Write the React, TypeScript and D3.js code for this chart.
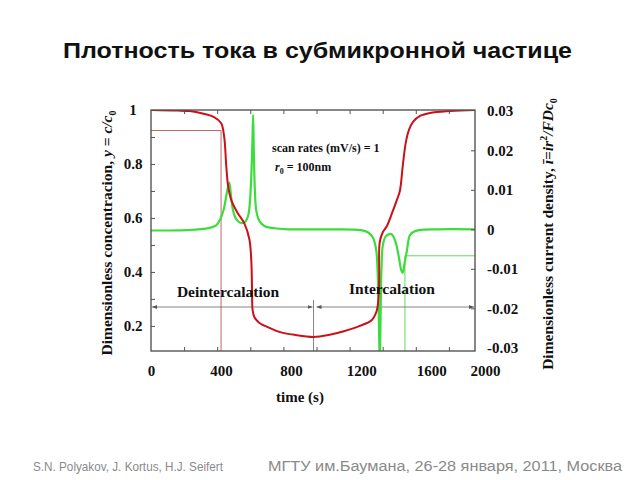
import { useEffect, useRef } from 'react'
import * as d3 from 'd3'

// time (s) and dimensionless concentration (left axis)
const redTime = [0, 150, 220, 300, 360, 400, 418, 430, 441, 458, 493, 533, 562, 573, 577, 580, 590, 619, 676, 733, 819, 928, 1020, 1106, 1192, 1261, 1289, 1298, 1303, 1306, 1324, 1347, 1381, 1404, 1421, 1438, 1455, 1473, 1496, 1536, 1593, 1708, 1850]
const redConc = [1.0, 0.998, 0.996, 0.986, 0.974, 0.952, 0.9, 0.79, 0.715, 0.667, 0.62, 0.58, 0.52, 0.437, 0.333, 0.26, 0.233, 0.211, 0.193, 0.178, 0.167, 0.159, 0.167, 0.181, 0.2, 0.222, 0.256, 0.296, 0.37, 0.51, 0.548, 0.57, 0.626, 0.667, 0.7, 0.796, 0.88, 0.926, 0.956, 0.978, 0.989, 0.996, 1.0]

// time (s) and dimensionless current density (right axis)
const greenTime = [0, 200, 330, 372, 395, 415, 432, 447, 458, 470, 487, 515, 540, 555, 565, 573, 579, 583, 587, 593, 602, 620, 650, 720, 800, 1000, 1200, 1240, 1266, 1285, 1295, 1302, 1306, 1310, 1316, 1324, 1340, 1360, 1375, 1395, 1415, 1430, 1438, 1446, 1461, 1478, 1500, 1530, 1630, 1850]
const greenCurr = [-0.0003, -0.0002, 0.0003, 0.001, 0.0025, 0.005, 0.009, 0.0118, 0.008, 0.0045, 0.0025, 0.0016, 0.002, 0.0035, 0.007, 0.014, 0.022, 0.029, 0.02, 0.01, 0.0045, 0.002, 0.0008, 0.0002, 0, 0, -0.0002, -0.0008, -0.002, -0.005, -0.012, -0.025, -0.034, -0.025, -0.01, -0.004, -0.0018, -0.0012, -0.0013, -0.003, -0.007, -0.0105, -0.011, -0.009, -0.0055, -0.0015, -0.0006, -0.0002, 0, 0]

const xTickValues = [0, 400, 800, 1200, 1600, 1850]
const xTickLabels = ['0', '400', '800', '1200', '1600', '2000']
const xMinorTicks = [189, 378, 567, 756, 945, 1134, 1323, 1512, 1701]
const leftTicks = [1, 0.8, 0.6, 0.4, 0.2]
const leftMinorTicks = [0.9, 0.8, 0.7, 0.6, 0.5, 0.4, 0.3, 0.2]
const rightTicks = [0.03, 0.02, 0.01, 0, -0.01, -0.02, -0.03]
const rightMinorTicks = [0.02, 0.01, 0, -0.01, -0.02]

// annotation values
const redMarker = { t: 400, c: 0.924 }
const greenMarker = { t: 1450, j: -0.0067 }
const splitTime = 928
const splitTop = 0.296
const arrowLevel = 0.27

const serif = '"Liberation Serif", "Times New Roman", serif'
const sans = '"Liberation Sans", Arial, sans-serif'

export default function App() {
  const svgRef = useRef<SVGSVGElement>(null)

  useEffect(() => {
    if (!svgRef.current) return
    const svg = d3.select(svgRef.current)
    svg.selectAll('*').remove()

    const x = d3.scaleLinear().domain([0, 1850]).range([151, 475])
    const yL = d3.scaleLinear().domain([0.107, 1]).range([351, 110])
    const yR = d3.scaleLinear().domain([-0.0308, 0.0302]).range([351, 110])
    const [x0, x1] = x.range()
    const [yb, yt] = yL.range()

    svg.append('rect').attr('width', 640).attr('height', 480).attr('fill', '#fff')

    svg.append('text')
      .attr('x', 63).attr('y', 58)
      .attr('font-family', sans).attr('font-weight', 'bold').attr('font-size', 22)
      .attr('fill', '#111')
      .attr('textLength', 509).attr('lengthAdjust', 'spacingAndGlyphs')
      .text('Плотность тока в субмикронной частице')

    const defs = svg.append('defs')
    defs.append('clipPath').attr('id', 'plot-clip')
      .append('rect').attr('x', x0).attr('y', yt).attr('width', x1 - x0).attr('height', yb - yt)
    const mk = defs.append('marker').attr('id', 'arr').attr('viewBox', '0 0 10 10')
      .attr('refX', 10).attr('refY', 5).attr('markerWidth', 5).attr('markerHeight', 5)
      .attr('orient', 'auto-start-reverse').attr('markerUnits', 'userSpaceOnUse')
    mk.append('path').attr('d', 'M0,1L10,5L0,9Z').attr('fill', '#555')

    // thin guide lines
    svg.append('path')
      .attr('d', `M${x0},${yL(redMarker.c)}H${x(redMarker.t)}V${yb}`)
      .attr('fill', 'none').attr('stroke', '#b85858').attr('stroke-width', 0.9)
    svg.append('path')
      .attr('d', `M${x1},${yR(greenMarker.j)}H${x(greenMarker.t)}V${yb}`)
      .attr('fill', 'none').attr('stroke', '#4cd64c').attr('stroke-width', 0.9)
    svg.append('line')
      .attr('x1', x(splitTime)).attr('x2', x(splitTime))
      .attr('y1', yL(splitTop)).attr('y2', yb)
      .attr('stroke', '#666').attr('stroke-width', 0.8)
    svg.append('line')
      .attr('x1', x0 + 1).attr('x2', x(splitTime) - 1)
      .attr('y1', yL(arrowLevel)).attr('y2', yL(arrowLevel))
      .attr('stroke', '#666').attr('stroke-width', 0.8)
      .attr('marker-start', 'url(#arr)').attr('marker-end', 'url(#arr)')
    svg.append('line')
      .attr('x1', x(splitTime) + 3).attr('x2', x1 - 1)
      .attr('y1', yL(arrowLevel)).attr('y2', yL(arrowLevel))
      .attr('stroke', '#666').attr('stroke-width', 0.8)
      .attr('marker-start', 'url(#arr)').attr('marker-end', 'url(#arr)')

    // curves
    const red = redTime.map((t, i) => [t, redConc[i]] as [number, number])
    const green = greenTime.map((t, i) => [t, greenCurr[i]] as [number, number])

    svg.append('path')
      .datum(green)
      .attr('clip-path', 'url(#plot-clip)')
      .attr('fill', 'none').attr('stroke', '#3ddc3d').attr('stroke-width', 2.2)
      .attr('d', d3.line<[number, number]>().x(d => x(d[0])).y(d => yR(d[1])).curve(d3.curveCatmullRom.alpha(0.5)))

    svg.append('path')
      .datum(red)
      .attr('clip-path', 'url(#plot-clip)')
      .attr('fill', 'none').attr('stroke', '#cc1018').attr('stroke-width', 2)
      .attr('d', d3.line<[number, number]>().x(d => x(d[0])).y(d => yL(d[1])).curve(d3.curveCatmullRom.alpha(0.5)))

    // frame
    svg.append('rect')
      .attr('x', x0).attr('y', yt).attr('width', x1 - x0).attr('height', yb - yt)
      .attr('fill', 'none').attr('stroke', '#555').attr('stroke-width', 1.4)

    const styleAxis = (g: d3.Selection<SVGGElement, unknown, null, undefined>) => {
      g.select('.domain').remove()
      g.selectAll('.tick line').attr('stroke', '#555').attr('stroke-width', 1)
      g.selectAll('text')
        .attr('font-family', serif).attr('font-weight', 'bold').attr('font-size', 15).attr('fill', '#111')
    }

    // minor inward ticks
    svg.append('g').attr('transform', `translate(0,${yb})`)
      .call(d3.axisBottom(x).tickValues(xMinorTicks).tickSize(-4).tickFormat(() => ''))
      .call(styleAxis)
    svg.append('g').attr('transform', `translate(0,${yt})`)
      .call(d3.axisTop(x).tickValues(xMinorTicks).tickSize(-4).tickFormat(() => ''))
      .call(styleAxis)
    svg.append('g').attr('transform', `translate(${x0},0)`)
      .call(d3.axisLeft(yL).tickValues(leftMinorTicks).tickSize(-4).tickFormat(() => ''))
      .call(styleAxis)
    svg.append('g').attr('transform', `translate(${x1},0)`)
      .call(d3.axisRight(yR).tickValues(rightMinorTicks).tickSize(-4).tickFormat(() => ''))
      .call(styleAxis)

    // tick labels
    const xl = svg.append('g').attr('transform', `translate(0,${yb})`)
      .call(d3.axisBottom(x).tickValues(xTickValues).tickSize(0).tickPadding(14)
        .tickFormat((_d, i) => xTickLabels[i]))
      .call(styleAxis)
    xl.selectAll<SVGTextElement, number>('text').attr('dx', d => (d === 1850 ? 10 : 0))

    svg.append('g').attr('transform', `translate(${x0},0)`)
      .call(d3.axisLeft(yL).tickValues(leftTicks).tickSize(0).tickPadding(18)
        .tickFormat(d => (+d === 1 ? '1' : (+d).toFixed(1))))
      .call(styleAxis)
      .selectAll('text').attr('text-anchor', 'middle')

    svg.append('g').attr('transform', `translate(${x1},0)`)
      .call(d3.axisRight(yR).tickValues(rightTicks).tickSize(0).tickPadding(12)
        .tickFormat(d => (+d === 0 ? '0' : (+d).toFixed(2))))
      .call(styleAxis)

    // axis titles
    svg.append('text')
      .attr('x', 300).attr('y', 402).attr('text-anchor', 'middle')
      .attr('font-family', serif).attr('font-weight', 'bold').attr('font-size', 15).attr('fill', '#111')
      .text('time (s)')

    const lt = svg.append('text')
      .attr('transform', 'translate(112,233) rotate(-90)')
      .attr('text-anchor', 'middle')
      .attr('font-family', serif).attr('font-weight', 'bold').attr('font-size', 15.5).attr('fill', '#111')
    lt.append('tspan').text('Dimensionless concentracion, ')
    lt.append('tspan').attr('font-style', 'italic').text('y')
    lt.append('tspan').text(' = ')
    lt.append('tspan').attr('font-style', 'italic').text('c/c')
    lt.append('tspan').attr('font-size', 10).attr('dy', 4).text('0')

    const rt = svg.append('text')
      .attr('transform', 'translate(553,234) rotate(-90)')
      .attr('text-anchor', 'middle')
      .attr('font-family', serif).attr('font-weight', 'bold').attr('font-size', 15.5).attr('fill', '#111')
    rt.append('tspan').text('Dimensionless current density, ')
    rt.append('tspan').attr('font-style', 'italic').text('ī=ir')
    rt.append('tspan').attr('font-size', 10).attr('dy', -6).text('2')
    rt.append('tspan').attr('font-style', 'italic').attr('dy', 6).text('/FDc')
    rt.append('tspan').attr('font-size', 10).attr('dy', 4).text('0')

    // in-plot annotations
    svg.append('text')
      .attr('x', 272).attr('y', 152)
      .attr('font-family', serif).attr('font-weight', 'bold').attr('font-size', 12).attr('fill', '#111')
      .text('scan rates (mV/s) = 1')
    const r0 = svg.append('text')
      .attr('x', 275).attr('y', 171)
      .attr('font-family', serif).attr('font-weight', 'bold').attr('font-size', 12).attr('fill', '#111')
    r0.append('tspan').attr('font-style', 'italic').text('r')
    r0.append('tspan').attr('font-size', 8).attr('dy', 3).text('0')
    r0.append('tspan').attr('dy', -3).text('  = 100nm')

    svg.append('text')
      .attr('x', 228).attr('y', 297).attr('text-anchor', 'middle')
      .attr('font-family', serif).attr('font-weight', 'bold').attr('font-size', 15.5).attr('fill', '#111')
      .text('Deintercalation')
    svg.append('text')
      .attr('x', 392).attr('y', 294).attr('text-anchor', 'middle')
      .attr('font-family', serif).attr('font-weight', 'bold').attr('font-size', 15.5).attr('fill', '#111')
      .text('Intercalation')

    // footer
    svg.append('text')
      .attr('x', 33).attr('y', 471)
      .attr('font-family', sans).attr('font-size', 13.5).attr('fill', '#8a8a8a')
      .attr('textLength', 190).attr('lengthAdjust', 'spacingAndGlyphs')
      .text('S.N. Polyakov, J. Kortus, H.J. Seifert')
    svg.append('text')
      .attr('x', 268).attr('y', 471)
      .attr('font-family', sans).attr('font-size', 14).attr('fill', '#8a8a8a')
      .attr('textLength', 354).attr('lengthAdjust', 'spacingAndGlyphs')
      .text('МГТУ им.Баумана, 26-28 января, 2011, Москва')
  }, [])

  return (
    <svg
      ref={svgRef}
      width={640}
      height={480}
      style={{ position: 'absolute', left: 0, top: 0, display: 'block' }}
    />
  )
}
